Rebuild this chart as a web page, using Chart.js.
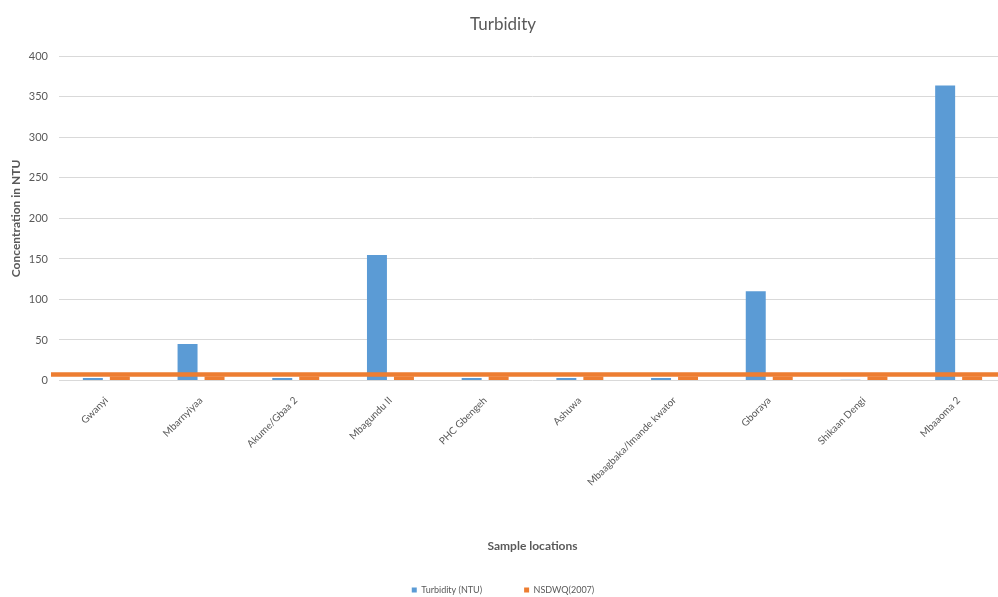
<!DOCTYPE html>
<html>
<head>
<meta charset="utf-8">
<title>Turbidity</title>
<script src="https://cdn.jsdelivr.net/npm/chart.js@4/dist/chart.umd.min.js"></script>
<style>
  html, body { margin: 0; padding: 0; background: #ffffff; overflow: hidden; }
  #wrap { width: 1012px; height: 597px; }
</style>
</head>
<body>
<div id="wrap"><canvas id="chart" width="1012" height="597"></canvas></div>
<script>
// Sample locations along the x axis
const locations = [
  "Gwanyi", "Mbarnyiyaa", "Akume/Gbaa 2", "Mbagundu II", "PHC Gbengeh",
  "Ashuwa", "Mbaagbaka/Imande kwator", "Gboraya", "Shikaan Dengi", "Mbaaoma 2"
];
// Measured turbidity (NTU) per location
const turbidityNTU = [3, 45, 3, 155, 3, 3, 3, 110, 1, 364];
// Nigerian Standard for Drinking Water Quality (2007) limit per location
const nsdwq2007 = [5, 5, 5, 5, 5, 5, 5, 5, 5, 5];
// Level of the NSDWQ guideline drawn across the plot
const nsdwqLineLevel = 7.5;
// Value axis ticks
const yTicks = [0, 50, 100, 150, 200, 250, 300, 350, 400];

const BLUE = "#5B9BD5";
const ORANGE = "#ED7D31";
const TEXT = "#595959";
const FONT = "Lato, 'Open Sans', 'Liberation Sans', sans-serif";

// Horizontal guideline for the NSDWQ limit
const guideLine = {
  id: "guideLine",
  afterDatasetsDraw(chart) {
    const { ctx, chartArea, scales } = chart;
    const y = scales.y.getPixelForValue(nsdwqLineLevel);
    ctx.save();
    ctx.strokeStyle = ORANGE;
    ctx.lineWidth = 4.5;
    ctx.beginPath();
    ctx.moveTo(chartArea.left - 8, y);
    ctx.lineTo(chart.width, y);
    ctx.stroke();
    ctx.restore();
  }
};

new Chart(document.getElementById("chart"), {
  type: "bar",
  data: {
    labels: locations,
    datasets: [
      {
        label: "Turbidity (NTU)",
        data: turbidityNTU,
        backgroundColor: BLUE,
        categoryPercentage: 0.57,
        barPercentage: 0.74
      },
      {
        label: "NSDWQ(2007)",
        data: nsdwq2007,
        backgroundColor: ORANGE,
        categoryPercentage: 0.57,
        barPercentage: 0.74
      }
    ]
  },
  options: {
    responsive: false,
    animation: false,
    devicePixelRatio: 1,
    layout: { padding: { left: 0, right: 6, top: 0, bottom: -7.5 } },
    plugins: {
      title: {
        display: true,
        text: "Turbidity",
        color: TEXT,
        font: { family: FONT, size: 17, weight: "normal" },
        padding: { top: 14, bottom: 22 }
      },
      legend: {
        position: "bottom",
        labels: {
          color: TEXT,
          font: { family: FONT, size: 9 },
          boxWidth: 5,
          boxHeight: 5,
          padding: 42
        }
      },
      tooltip: { enabled: false }
    },
    scales: {
      x: {
        grid: { display: false, drawTicks: false },
        border: { display: false },
        ticks: {
          color: TEXT,
          font: { family: FONT, size: 10 },
          autoSkip: false,
          maxRotation: 45,
          minRotation: 45,
          padding: 14
        },
        title: {
          display: true,
          text: "Sample locations",
          color: TEXT,
          font: { family: FONT, size: 12, weight: "bold" },
          padding: { top: 0, bottom: -10 }
        },
        afterFit(scale) { scale.height = 163; }
      },
      y: {
        min: yTicks[0],
        max: yTicks[yTicks.length - 1],
        afterBuildTicks(scale) { scale.ticks = yTicks.map(v => ({ value: v })); },
        grid: { color: "#D9D9D9", lineWidth: 1, drawTicks: false },
        border: { display: false },
        ticks: {
          color: TEXT,
          font: { family: FONT, size: 11 },
          padding: 11
        },
        title: {
          display: true,
          text: "Concentration in NTU",
          color: TEXT,
          font: { family: FONT, size: 12, weight: "bold" },
          padding: { top: 9, bottom: 0 }
        },
        afterFit(scale) { scale.width = 59; }
      }
    }
  },
  plugins: [guideLine]
});
</script>
</body>
</html>
